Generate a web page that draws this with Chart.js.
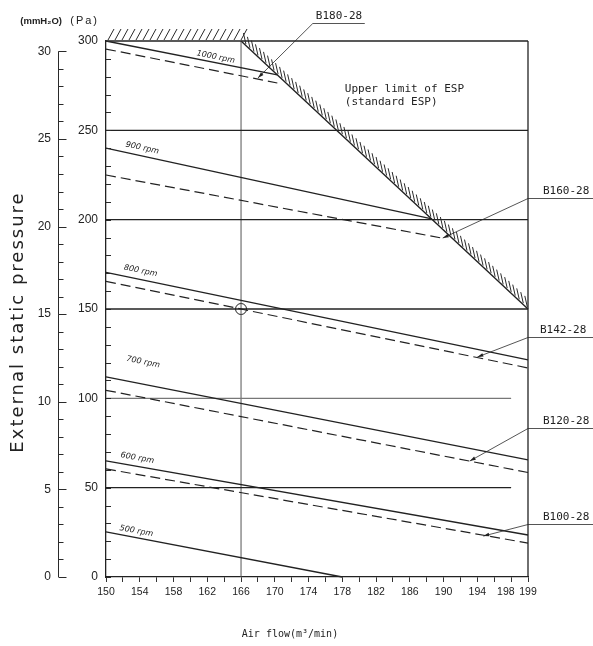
<!DOCTYPE html>
<html lang="en">
<head>
  <meta charset="UTF-8" />
  <title>External static pressure</title>
  <script src="https://cdn.jsdelivr.net/npm/chart.js"></script>
  <style>
    body { margin: 0; background: #fff; }
    #espChart { display: block; }
  </style>
</head>
<body>
  <canvas id="espChart" width="593" height="646"></canvas>

  <script>
    // fan curves: air flow (m3/min) and external static pressure (Pa)
    const rpmNames = ['1000 rpm', '900 rpm', '800 rpm', '700 rpm', '600 rpm', '500 rpm'];
    const solidFlow = [[150, 170.3], [150, 188.6], [150, 200], [150, 200], [150, 200], [150, 178]];
    const solidEsp = [[300, 281], [240, 200.5], [170.5, 121.5], [112, 65.5], [65, 23.5], [25.2, 0]];
    const dashedFlow = [[150, 170.3], [150, 190], [150, 200], [150, 200], [150, 200]];
    const dashedEsp = [[295.5, 276.5], [225, 189.5], [165.5, 117], [104.5, 58.5], [60.5, 19]];

    // upper limit of ESP (standard ESP)
    const limitFlow = [166, 200];
    const limitEsp = [300, 150];

    // reference lines
    const fullLineEsp = [300, 250, 200, 150];
    const shortLineEsp = [100, 50];
    const shortLineEnd = 198;
    const markFlow = 166;

    // selected duty point
    const pointFlow = [166];
    const pointEsp = [150];

    const modelNames = ['B180-28', 'B160-28', 'B142-28', 'B120-28', 'B100-28'];

    // x tick labels (last tick reads 199 on the drawing)
    const flowTickValues = [150, 154, 158, 162, 166, 170, 174, 178, 182, 186, 190, 194, 198, 200];
    const flowTickTexts = ['150', '154', '158', '162', '166', '170', '174', '178', '182', '186', '190', '194', '198\u2003', '199'];

    const PA_PER_MMH2O = 9.80665;
    const SANS = "'Liberation Sans', Arial, sans-serif";
    const CAD = "'DejaVu Sans Mono', 'Liberation Mono', monospace";
    const ink = '#222';

    // where the annotations sit (data coordinates)
    const rpmPlace = [[163.0, 291.0], [154.3, 240.1], [154.1, 171.3], [154.4, 120.3], [153.7, 66.6], [153.6, 25.7]];
    const tagPlace = [
      { x: 174.5, y: 310, w: 52, dx: 3, tipX: 168.0, tipY: 279.3 },
      { x: 200, y: 212.1, w: 65, dx: 15, tipX: 189.9, tipY: 189.7 },
      { x: 200, y: 134.3, w: 65, dx: 12, tipX: 194.0, tipY: 123.1 },
      { x: 200, y: 83.4, w: 65, dx: 15, tipX: 193.1, tipY: 64.9 },
      { x: 200, y: 29.7, w: 65, dx: 15, tipX: 194.7, tipY: 22.9 }
    ];

    function lineSet(xs, ys, extra) {
      return Object.assign({
        showLine: true,
        data: xs.map((x, i) => ({ x: x, y: ys[i] })),
        borderColor: ink,
        borderWidth: 1.2,
        pointRadius: 0,
        fill: false,
        clip: 4
      }, extra);
    }

    const datasets = [];
    solidFlow.forEach((xs, i) => datasets.push(lineSet(xs, solidEsp[i], { borderWidth: 1.3 })));
    dashedFlow.forEach((xs, i) => datasets.push(lineSet(xs, dashedEsp[i], { borderDash: [10, 5] })));
    fullLineEsp.forEach(v => datasets.push(lineSet([150, 200], [v, v], { borderWidth: 1.3 })));
    shortLineEsp.forEach((v, i) => datasets.push(lineSet([150, shortLineEnd], [v, v], { borderColor: i === 0 ? '#777' : ink })));
    datasets.push(lineSet([markFlow, markFlow], [0, 300], { borderWidth: 1, borderColor: '#555' }));
    datasets.push(lineSet([200, 200], [0, 300], { borderWidth: 1.3 }));
    datasets.push(lineSet(limitFlow, limitEsp, { borderWidth: 1.4 }));
    datasets.push({
      data: pointFlow.map((x, i) => ({ x: x, y: pointEsp[i] })),
      showLine: false,
      pointRadius: 5.5,
      pointBorderWidth: 1,
      pointBorderColor: ink,
      pointBackgroundColor: 'rgba(0,0,0,0)',
      clip: 8
    });

    const espDecor = {
      id: 'espDecor',
      afterDraw(chart) {
        const ctx = chart.ctx;
        const area = chart.chartArea;
        const { x, y, y2 } = chart.scales;
        ctx.save();
        ctx.strokeStyle = '#2a2a2a';
        ctx.fillStyle = ink;
        ctx.lineWidth = 1;

        // mmH2O axis, ticks on its right side
        const axX = Math.round(y2.right - 8) + 0.5;
        ctx.beginPath();
        ctx.moveTo(axX, y2.getPixelForValue(0));
        ctx.lineTo(axX, y2.getPixelForValue(30));
        for (let v = 0; v <= 30; v++) {
          const py = Math.round(y2.getPixelForValue(v)) + 0.5;
          ctx.moveTo(axX, py);
          ctx.lineTo(axX + (v % 5 === 0 ? 8 : 5), py);
        }
        // Pa axis minor ticks, inside the plot
        for (let v = 0; v <= 300; v += 10) {
          const py = Math.round(y.getPixelForValue(v)) + 0.5;
          ctx.moveTo(area.left, py);
          ctx.lineTo(area.left + 5, py);
        }
        ctx.stroke();

        // hatching: along the top up to the limit line, then along the limit
        const lx0 = x.getPixelForValue(limitFlow[0]), ly0 = y.getPixelForValue(limitEsp[0]);
        const lx1 = x.getPixelForValue(limitFlow[1]), ly1 = y.getPixelForValue(limitEsp[1]);
        ctx.lineWidth = 1;
        ctx.beginPath();
        for (let px = area.left + 2; px < lx0; px += 7) {
          ctx.moveTo(px, ly0 - 1);
          ctx.lineTo(px + 6, ly0 - 12);
        }
        const len = Math.hypot(lx1 - lx0, ly1 - ly0);
        const ux = (lx1 - lx0) / len, uy = (ly1 - ly0) / len;
        for (let s = 6; s < len; s += 5.5) {
          const px = lx0 + ux * s, py = ly0 + uy * s;
          ctx.moveTo(px + 0.5, py - 1);
          ctx.lineTo(px - 2, py - 12);
        }
        ctx.stroke();

        // rpm labels along the solid curves
        ctx.font = 'italic 8px "DejaVu Sans", sans-serif';
        ctx.textAlign = 'center';
        ctx.textBaseline = 'middle';
        rpmNames.forEach((name, i) => {
          const ax = x.getPixelForValue(solidFlow[i][0]), ay = y.getPixelForValue(solidEsp[i][0]);
          const bx = x.getPixelForValue(solidFlow[i][1]), by = y.getPixelForValue(solidEsp[i][1]);
          ctx.save();
          ctx.translate(x.getPixelForValue(rpmPlace[i][0]), y.getPixelForValue(rpmPlace[i][1]));
          ctx.rotate(Math.atan2(by - ay, bx - ax));
          ctx.fillText(name, 0, 0);
          ctx.restore();
        });

        // model tags with leader lines
        ctx.font = '11px ' + CAD;
        ctx.textAlign = 'left';
        ctx.textBaseline = 'bottom';
        ctx.lineWidth = 0.8;
        modelNames.forEach((name, i) => {
          const t = tagPlace[i];
          const ax = x.getPixelForValue(t.x), ay = Math.round(y.getPixelForValue(t.y)) + 0.5;
          const tx = x.getPixelForValue(t.tipX), ty = y.getPixelForValue(t.tipY);
          ctx.beginPath();
          ctx.moveTo(ax, ay);
          ctx.lineTo(ax + t.w, ay);
          ctx.moveTo(ax, ay);
          ctx.lineTo(tx, ty);
          ctx.stroke();
          const a = Math.atan2(ty - ay, tx - ax);
          ctx.beginPath();
          ctx.moveTo(tx, ty);
          ctx.lineTo(tx - 6 * Math.cos(a) + 1.8 * Math.sin(a), ty - 6 * Math.sin(a) - 1.8 * Math.cos(a));
          ctx.lineTo(tx - 6 * Math.cos(a) - 1.8 * Math.sin(a), ty - 6 * Math.sin(a) + 1.8 * Math.cos(a));
          ctx.closePath();
          ctx.fill();
          ctx.fillText(name, ax + t.dx, ay - 2);
        });

        // upper limit note
        ctx.textBaseline = 'middle';
        const nx = x.getPixelForValue(178.3), ny = y.getPixelForValue(273.1);
        ctx.fillText('Upper limit of ESP', nx, ny);
        ctx.fillText('(standard ESP)', nx, ny + 13);

        // axis titles
        ctx.textAlign = 'center';
        ctx.font = '10px ' + CAD;
        ctx.fillText('Air flow(m\u00b3/min)', x.getPixelForValue(171.8), area.bottom + 57);

        ctx.save();
        ctx.translate(y2.left + 18, (area.top + area.bottom) / 2 + 13);
        ctx.rotate(-Math.PI / 2);
        ctx.font = '18px "DejaVu Sans", sans-serif';
        ctx.letterSpacing = '2px';
        ctx.fillText('External static pressure', 0, 0);
        ctx.restore();

        // unit header
        ctx.textAlign = 'right';
        ctx.font = 'bold 9.5px ' + SANS;
        ctx.fillText('(mmH\u2082O)', y2.right - 4, area.top - 20);
        ctx.font = '11px ' + SANS;
        ctx.letterSpacing = '2px';
        ctx.fillText('(Pa)', area.left - 7, area.top - 20);
        ctx.restore();
      }
    };

    new Chart(document.getElementById('espChart'), {
      type: 'scatter',
      data: { datasets: datasets },
      plugins: [espDecor],
      options: {
        responsive: false,
        animation: false,
        events: [],
        layout: { padding: { left: 0, top: 41, right: 65, bottom: 0 } },
        plugins: { legend: { display: false }, tooltip: { enabled: false } },
        scales: {
          x: {
            type: 'linear',
            min: 150,
            max: 200,
            afterFit: s => { s.height = 69; },
            border: { display: true, color: ink, width: 1.3 },
            grid: { drawOnChartArea: false, drawTicks: true, tickLength: 5, color: '#333' },
            ticks: {
              stepSize: 2,
              autoSkip: false,
              maxRotation: 0,
              padding: 4,
              color: ink,
              font: { family: SANS, size: 10.5 },
              callback: v => {
                const k = flowTickValues.indexOf(v);
                return k >= 0 ? flowTickTexts[k] : '';
              }
            }
          },
          y: {
            type: 'linear',
            position: 'left',
            weight: 0,
            min: 0,
            max: 300,
            afterFit: s => { s.width = 40; },
            border: { display: true, color: ink, width: 1.3 },
            grid: { display: false, drawTicks: false },
            ticks: { stepSize: 50, padding: 8, color: ink, font: { family: SANS, size: 12 } }
          },
          y2: {
            type: 'linear',
            position: 'left',
            weight: 1,
            min: 0,
            max: 300 / PA_PER_MMH2O,
            afterFit: s => { s.width = 66; },
            border: { display: false },
            grid: { display: false, drawTicks: false },
            ticks: {
              stepSize: 1,
              includeBounds: false,
              autoSkip: false,
              padding: 15,
              color: ink,
              font: { family: SANS, size: 12 },
              callback: v => (v % 5 === 0 ? String(v) : '')
            }
          }
        }
      }
    });
  </script>
</body>
</html>
